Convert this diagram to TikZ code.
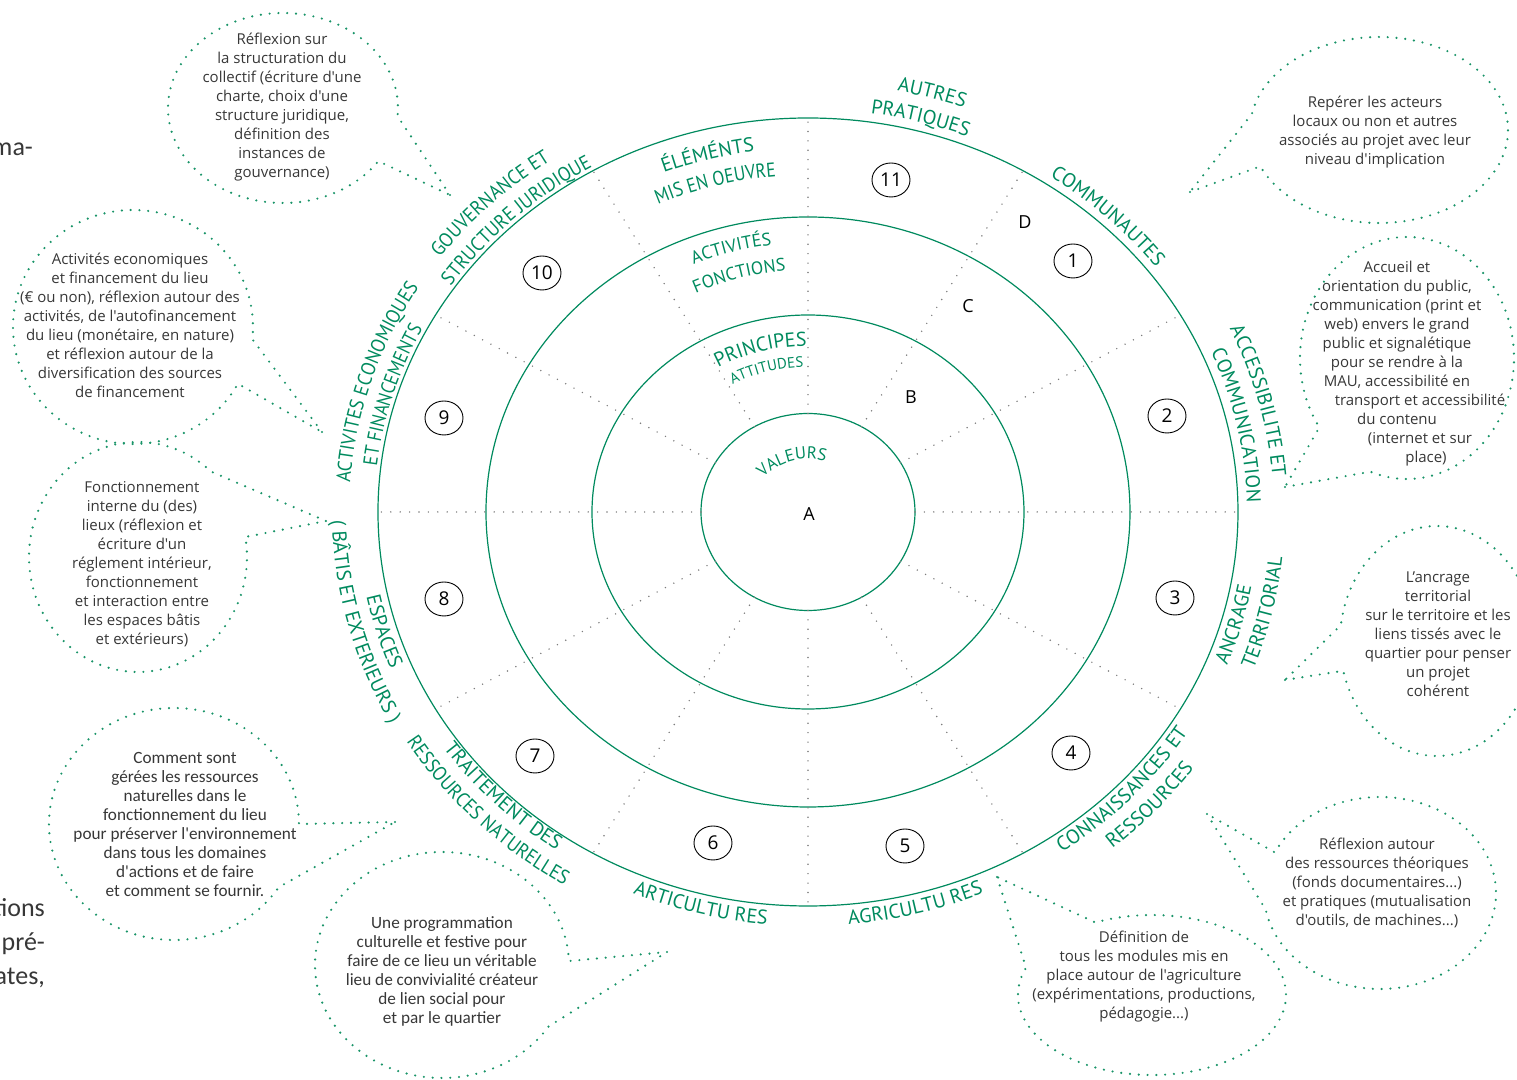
\documentclass[tikz,border=0pt]{standalone}
\usepackage{fontspec}
\setmainfont{Open Sans}[Ligatures=TeXOff]
\newfontfamily\labfamily{PT Sans}
\newfontfamily\labnarrowfamily{PT Sans}[FakeStretch=0.92]
\newfontfamily\labtightfamily{PT Sans}[FakeStretch=0.88]
\newfontfamily\calfamily{Carlito}[Ligatures=TeXOff]
\usepackage{xcolor}
\usetikzlibrary{calc}
\usetikzlibrary{shapes.geometric}
\usetikzlibrary{decorations.text}

\definecolor{labgreen}{RGB}{0,138,94}
\definecolor{bubgreen}{RGB}{25,148,104}
\definecolor{txtgray}{RGB}{55,55,55}
\definecolor{raygray}{RGB}{125,125,125}

\newcommand{\labbig}{\labfamily\fontsize{10}{12}\selectfont}
\newcommand{\labnarrow}{\labnarrowfamily\fontsize{10}{12}\selectfont}
\newcommand{\labtight}{\labtightfamily\fontsize{10}{12}\selectfont}
\newcommand{\labmid}{\labfamily\fontsize{9}{11}\selectfont}
\newcommand{\labval}{\labfamily\fontsize{8.5}{10}\selectfont}
\newcommand{\labsmall}{\labfamily\fontsize{7.5}{9}\selectfont}

% text along the rings: angle, x radius, y radius, font, text
\newcommand{\ringcw}[5]{%
  \path[decorate, decoration={text along path, text align=center, text color=labgreen, text={|#4|#5}}]
    (#1+40:#2 and #3) arc[start angle=#1+40, end angle=#1-40, x radius=#2, y radius=#3];}
\newcommand{\ringccw}[5]{%
  \path[decorate, decoration={text along path, text align=center, text color=labgreen, text={|#4|#5}}]
    (#1-40:#2 and #3) arc[start angle=#1-40, end angle=#1+40, x radius=#2, y radius=#3];}

\tikzset{
  ring/.style={labgreen, line width=0.6pt},
  ray/.style={raygray, line width=0.8pt, line cap=round, dash pattern=on 0pt off 4.7pt},
  bubbleline/.style={bubgreen, line width=1.2pt, line cap=round, dash pattern=on 0pt off 4.4pt},
  numcirc/.style={draw, ellipse, line width=0.45pt, minimum width=19pt, minimum height=17pt, inner sep=0pt, font=\fontsize{9.5}{9.5}\selectfont},
  letterlab/.style={font=\fontsize{9}{9}\selectfont},
  bubtext/.style={txtgray, align=center, font=\fontsize{7.5}{9.5}\selectfont},
  bubtextc/.style={txtgray, align=center, font=\calfamily\fontsize{8.6}{9.5}\selectfont},
  pagetext/.style={txtgray, anchor=base east, font=\calfamily\fontsize{13}{17}\selectfont}
}

\begin{document}
\begin{tikzpicture}[x=0.5pt, y=0.5pt]
\useasboundingbox (-808,-568) rectangle (709,512);

% rings
\draw[ring] (0,0) ellipse [x radius=107, y radius=98.5];
\draw[ring] (0,0) ellipse [x radius=216, y radius=197];
\draw[ring] (0,0) ellipse [x radius=322, y radius=295];
\draw[ring] (0,0) ellipse [x radius=430, y radius=394];

% dotted rays
\foreach \a in {0,30,...,330}
  \draw[ray] (\a:107 and 98.5) -- (\a:430 and 394);

% sector numbers
\foreach \n/\x/\y in {1/265/251, 2/359/96, 3/367/-86, 4/263/-241, 5/97/-334, 6/-95/-331,
    7/-273/-244, 8/-364/-87, 9/-364/94, 10/-266/239, 11/83/332}
  \node[numcirc] (n\n) at (\x,\y) {\n};

% ring letters
\node[letterlab] (ringA) at (1,-2) {A};
\node[letterlab] (ringB) at (103,115) {B};
\node[letterlab] (ringC) at (160,206) {C};
\node[letterlab] (ringD) at (217,290) {D};

% inner titles
\path[decorate, decoration={text along path, text align=center, text color=labgreen, text={|\labval|VALEURS}}]
  (167:58 and 53) arc[start angle=167, end angle=47, x radius=58, y radius=53];
\ringcw{105.5}{181}{166}{\labbig}{PRINCIPES}
\ringcw{105.5}{158}{145}{\labsmall}{ATTITUDES}
\ringcw{105.5}{293}{269}{\labmid}{ACTIVITÉS}
\ringcw{105.5}{263}{242}{\labmid}{FONCTIONS}
\ringcw{105}{396}{364}{\labbig}{ÉLÉMÉNTS}
\ringcw{105}{367}{337}{\labtight}{MIS EN OEUVRE}

% outer titles
\ringcw{74.2}{465}{429}{\labbig}{AUTRES}
\ringcw{74.8}{439}{403}{\labbig}{PRATIQUES}
\ringcw{46}{438}{402}{\labbig}{COMMUNAUTES}
\ringcw{14.5}{466}{430}{\labbig}{ACCESSIBILITE ET}
\ringcw{12}{439}{403}{\labbig}{COMMUNICATION}
\ringccw{-15.5}{451}{415}{\labbig}{ANCRAGE}
\ringccw{-13}{477}{441}{\labbig}{TERRITORIAL}
\ringccw{-43}{449}{413}{\labbig}{CONNAISSANCES ET}
\ringccw{-42}{475}{439}{\labbig}{RESSOURCES}
\ringccw{-75.5}{450}{414}{\labbig}{AGRICULTU RES}
\ringccw{255.5}{450}{414}{\labbig}{ARTICULTU RES}
\ringccw{224.5}{446}{410}{\labbig}{TRAITEMENT DES}
\ringccw{224.5}{472}{436}{\labnarrow}{RESSOURCES NATURELLES}
\ringccw{196.5}{451}{415}{\labbig}{ESPACES}
\ringccw{194.5}{476}{440}{\labbig}{( BÂTIS ET EXTERIEURS )}
\ringcw{162.5}{459}{423}{\labnarrow}{ACTIVITES ECONOMIQUES}
\ringcw{163.5}{434}{398}{\labtight}{ET FINANCEMENTS}
\ringcw{134.5}{460}{424}{\labnarrow}{GOUVERNANCE ET}
\ringcw{133.5}{434}{398}{\labnarrow}{STRUCTURE JURIDIQUE}

% bubbles
\coordinate (gouv) at (-525,404);
\coordinate (gouvtip) at (-358,317);
\draw[bubbleline] (gouvtip) -- ($(gouv)+(-5:115 and 95)$) arc[start angle=-5, end angle=326, x radius=115, y radius=95] -- (gouvtip);
\node[bubtext] (gouv-t) at (-526,405) {Réflexion sur\\la structuration du\\collectif (écriture d'une\\charte, choix d'une\\structure juridique,\\définition des\\instances de\\gouvernance)};

\coordinate (eco) at (-675,185);
\coordinate (ecotip) at (-486,80);
\draw[bubbleline] (ecotip) -- ($(eco)+(-6:120 and 117)$) arc[start angle=-6, end angle=331, x radius=120, y radius=117] -- (ecotip);
\node[bubtext] (eco-t) at (-678,187) {Activités economiques\\et financement du lieu\\(€ ou non), réflexion autour des\\activités, de l'autofinancement\\du lieu (monétaire, en nature)\\et réflexion autour de la\\diversification des sources\\de financement};

\coordinate (esp) at (-670,-45);
\coordinate (esptip) at (-482,-9);
\draw[bubbleline] (esptip) -- ($(esp)+(48:109 and 115)$) arc[start angle=48, end angle=370, x radius=109, y radius=115] -- (esptip);
\node[bubtext] (esp-t) at (-666,-52) {Fonctionnement\\interne du (des)\\lieux (réflexion et\\écriture d'un\\réglement intérieur,\\fonctionnement\\et interaction entre\\les espaces bâtis\\et extérieurs)};

\coordinate (nat) at (-634,-312);
\coordinate (nattip) at (-413,-310);
\draw[bubbleline] (nattip) -- ($(nat)+(0:125 and 116)$) arc[start angle=0, end angle=327, x radius=125, y radius=116] -- (nattip);
\node[bubtextc] (nat-t) at (-623,-312) {Comment sont\\gérées les ressources\\naturelles dans le\\fonctionnement du lieu\\pour préserver l'environnement\\dans tous les domaines\\d'actions et de faire\\et comment se fournir.};

\coordinate (arti) at (-366,-453);
\coordinate (artitip) at (-141,-440);
\draw[bubbleline] (artitip) -- ($(arti)+(2:127 and 113)$) arc[start angle=2, end angle=327, x radius=127, y radius=113] -- (artitip);
\node[bubtextc] (arti-t) at (-366,-459) {Une programmation\\culturelle et festive pour\\faire de ce lieu un véritable\\lieu de convivialité créateur\\de lien social pour\\et par le quartier};

\coordinate (comm) at (571,382);
\coordinate (commtip) at (382,320);
\draw[bubbleline] (commtip) -- ($(comm)+(203:129 and 93)$) arc[start angle=203, end angle=530, x radius=129, y radius=93] -- (commtip);
\node[bubtext] (comm-t) at (567,380) {Repérer les acteurs\\locaux ou non et autres\\associés au projet avec leur\\niveau d'implication};

\coordinate (acc) at (599,154);
\coordinate (acctip) at (477,25);
\draw[bubbleline] (acctip) -- ($(acc)+(250:107 and 121)$) arc[start angle=250, end angle=575, x radius=107, y radius=121] -- (acctip);
\node[bubtext] (acc-t) at (589,148) {Accueil et\\orientation du public,\\communication (print et\\web) envers le grand\\public et signalétique\\pour se rendre à la\\MAU, accessibilité en\\\hspace*{23pt}transport et accessibilité\\du contenu\\\hspace*{23pt}(internet et sur\\\hspace*{29pt}place)};

\coordinate (anc) at (629,-129);
\coordinate (anctip) at (477,-168);
\draw[bubbleline] (anctip) -- ($(anc)+(195:97 and 115)$) arc[start angle=195, end angle=532, x radius=97, y radius=115] -- (anctip);
\node[bubtext] (anc-t) at (630,-122) {L’ancrage\\territorial\\sur le territoire et les\\liens tissés avec le\\quartier pour penser\\un projet\\cohérent};

\coordinate (conn) at (572,-381);
\coordinate (conntip) at (399,-302);
\draw[bubbleline] (conntip) -- ($(conn)+(190:116 and 96)$) arc[start angle=190, end angle=515, x radius=116, y radius=96] -- (conntip);
\node[bubtext] (conn-t) at (569,-371) {Réflexion autour\\des ressources théoriques\\(fonds documentaires...)\\et pratiques (mutualisation\\d'outils, de machines...)};

\coordinate (agri) at (344,-483);
\coordinate (agritip) at (189,-365);
\draw[bubbleline] (agritip) -- ($(agri)+(160:134 and 80)$) arc[start angle=160, end angle=475, x radius=134, y radius=80] -- (agritip);
\node[bubtext] (agri-t) at (336,-465) {Définition de\\tous les modules mis en\\place autour de l'agriculture\\(expérimentations, productions,\\pédagogie...)};

% page text cut at the left edge
\node[pagetext] (cut1) at (-768,356) {ma-};
\node[pagetext] (cut2) at (-756,-405) {tions};
\node[pagetext] (cut3) at (-756,-439) {pré-};
\node[pagetext] (cut4) at (-756,-473) {ates,};
\end{tikzpicture}
\end{document}
